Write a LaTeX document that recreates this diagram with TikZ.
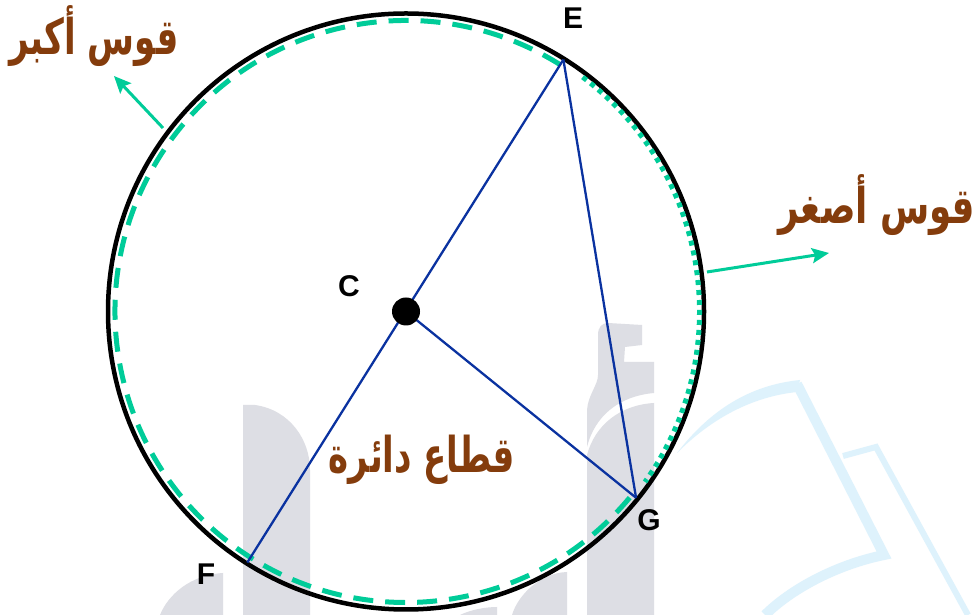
\documentclass[tikz,border=0pt]{standalone}
\usepackage{fontspec}
\setmainfont{Liberation Sans}
\newfontfamily\arabicfont[Script=Arabic]{DejaVu Sans}
\TeXXeTstate=1
\usetikzlibrary{arrows.meta,calc}
\definecolor{arcgreen}{RGB}{0,204,153}
\definecolor{lineblue}{RGB}{10,50,160}
\definecolor{txtbrown}{RGB}{132,60,12}
\definecolor{wmgray}{RGB}{221,222,228}
\definecolor{wmblue}{RGB}{222,242,252}
\tikzset{
  ptlabel/.style={font=\fontsize{30}{32}\selectfont\bfseries, text=black, inner sep=0pt},
  arlabel/.style={font=\fontsize{34}{38}\selectfont\arabicfont\bfseries, text=txtbrown, inner sep=0pt},
  radline/.style={draw=lineblue, line width=2.3pt},
  pointer/.style={draw=arcgreen, line width=3pt, -{Stealth[length=17pt,width=15pt,inset=3pt]}},
  wmg/.style={fill=wmgray, draw=none},
  wmb/.style={draw=wmblue, line join=miter}
}
\begin{document}
\begin{tikzpicture}[x=1pt,y=1pt]
\useasboundingbox (0,0) rectangle (979,615);
\fill[white] (0,0) rectangle (979,615);
% watermark
\fill[wmg] (243,0) -- (243,210) -- (255,210) .. controls (290,205) and (310,175) .. (310,145) -- (310,0) -- cycle;
\fill[wmg] (223,0) -- (223,42) .. controls (190,40) and (168,20) .. (160,0) -- cycle;
\fill[wmg] (567,0) -- (567,43) .. controls (540,42) and (518,20) .. (512,0) -- cycle;
\fill[wmg] (460,0) .. controls (470,5) and (485,8) .. (497,8) -- (497,0) -- cycle;
\fill[wmg] (587,0) -- (587,160) .. controls (595,190) and (620,210) .. (654,212) -- (654,0) -- cycle;
\fill[wmg] (598,280) .. controls (598,288) and (602,292) .. (608,292) -- (642,290) -- (642,270) -- (625,268) -- (624,253) -- (654,253) -- (654,222) .. controls (620,219) and (595,200) .. (587,168) -- (587,205) .. controls (588,220) and (598,230) .. (598,240) -- cycle;
\fill[wmblue] (677,162) .. controls (710,205) and (750,230) .. (800,235) -- (797,223) .. controls (750,218) and (710,195) .. (677,162) -- cycle;
\draw[wmb, line width=10pt] (797,231) -- (884,60) .. controls (835,50) and (790,25) .. (765,0);
\draw[wmb, line width=6pt] (843,159) -- (876,168) -- (968,0);
% circle
\coordinate (C) at (406,303.5);
\draw[line width=4.5pt] (C) circle[radius=298];
\coordinate (E) at ($(C)+(58:297)$);
\coordinate (G) at ($(C)+(-39:296)$);
\coordinate (F) at ($(C)+(237.7:297)$);
% arcs
\draw[arcgreen, line width=5pt, dash pattern=on 20pt off 12pt] ($(C)+(58:291)$) arc[start angle=58, end angle=320.5, radius=291];
\draw[arcgreen, line width=5pt, dash pattern=on 5pt off 5pt] ($(C)+(53:293.5)$) arc[start angle=53, end angle=-35.5, radius=293.5];
% lines
\draw[radline] (E) -- (F);
\draw[radline] (C) -- (G);
\draw[radline] (E) -- (G);
\fill[black] (C) circle[radius=14];
% point labels
\node[ptlabel] (lC) at (349,329) {C};
\node[ptlabel] (lE) at (573,597) {E};
\node[ptlabel] (lF) at (206,41) {F};
\node[ptlabel] (lG) at (649,95) {G};
% arabic labels
\node[arlabel] (major) at (94,579) {\scalebox{1.0}[1.45]{\beginR قوس أكبر\endR}};
\node[arlabel] (minor) at (877,410) {\scalebox{1.05}[1.45]{\beginR قوس أصغر\endR}};
\node[arlabel] (sector) at (422,155) {\scalebox{1.0}[1.45]{\beginR قطاع دائرة\endR}};
% pointers
\coordinate (p1s) at (163,487);
\coordinate (p1e) at (114,539);
\coordinate (p2s) at (707,343);
\coordinate (p2e) at (829,362);
\draw[pointer] (p1s) -- (p1e);
\draw[pointer] (p2s) -- (p2e);
\end{tikzpicture}
\end{document}
